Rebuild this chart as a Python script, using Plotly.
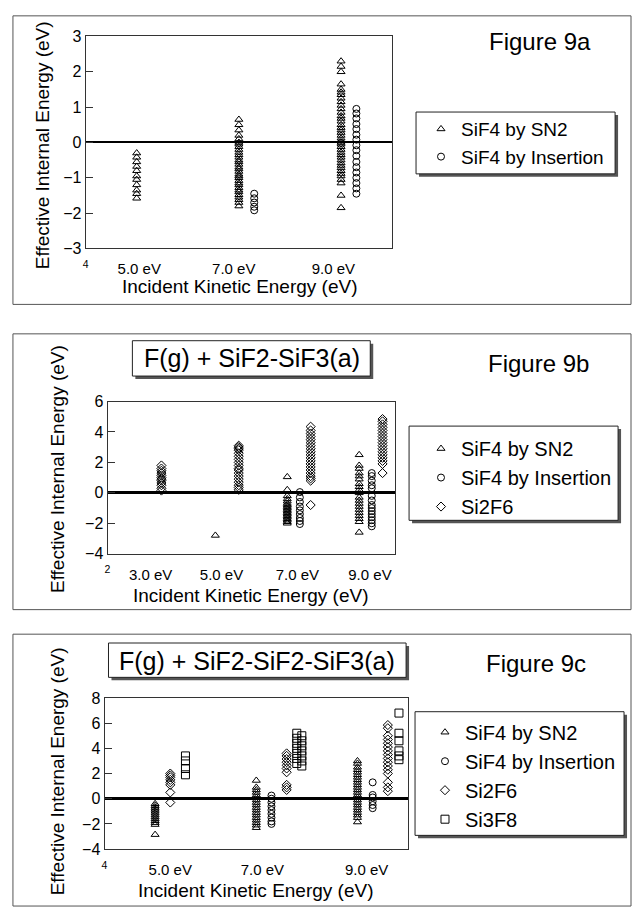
import plotly.graph_objects as go

# ---------------- DATA ----------------
SERIES_NAMES = ["SiF4 by SN2", "SiF4 by Insertion", "Si2F6", "Si3F8"]

# Figure 9a
A_SN2_X = [5.0, 7.0, 9.0]
A_SN2_Y = [
    [-0.3, -0.42, -0.55, -0.68, -0.8, -0.95, -1.05, -1.2, -1.35, -1.45, -1.58],
    [0.65, 0.5, 0.35, 0.2, 0.1, 0.0, -0.05, -0.12, -0.2, -0.28, -0.35, -0.42, -0.5, -0.55,
     -0.62, -0.7, -0.75, -0.82, -0.9, -0.95, -1.0, -1.08, -1.15, -1.2, -1.28, -1.35, -1.4,
     -1.48, -1.55, -1.62, -1.7, -1.8],
    [2.3, 2.15, 2.0, 1.65, 1.5, 1.42, 1.35, 1.25, 1.15, 1.05, 0.95, 0.85, 0.75, 0.68, 0.6,
     0.5, 0.42, 0.35, 0.28, 0.2, 0.12, 0.05, 0.0, -0.05, -0.12, -0.2, -0.28, -0.35, -0.42,
     -0.5, -0.58, -0.65, -0.72, -0.8, -0.88, -0.95, -1.05, -1.15, -1.5, -1.85],
]
A_INS_X = [7.3, 9.3]
A_INS_Y = [
    [-1.45, -1.58, -1.7, -1.82, -1.92],
    [0.95, 0.82, 0.68, 0.52, 0.38, 0.22, 0.08, -0.08, -0.22, -0.38, -0.55, -0.7, -0.85,
     -1.0, -1.15, -1.3, -1.45],
]
A_TICKVALS = [4.0, 5.05, 6.9, 8.85]
A_TICKTEXT = ["<sup>4</sup>", "5.0 eV", "7.0 eV", "9.0 eV"]

# Figure 9b
B_SN2_X = [5.0, 7.0, 9.0]
B_SN2_Y = [
    [-2.8],
    [1.05, 0.2, -0.2, -0.4, -0.55, -0.7, -0.8, -0.9, -1.0, -1.1, -1.2, -1.3, -1.4, -1.5,
     -1.6, -1.7, -1.8, -1.9, -2.0],
    [2.5, 1.8, 1.6, 1.3, 1.1, 0.9, 0.6, 0.4, 0.2, 0.0, -0.3, -0.5, -0.7, -0.9, -1.1, -1.3,
     -1.5, -1.7, -1.9, -2.6],
]
B_INS_X = [7.35, 9.35]
B_INS_Y = [
    [0.05, -0.3, -0.6, -0.9, -1.15, -1.4, -1.65, -1.85, -2.05],
    [1.3, 1.1, 0.8, 0.5, 0.3, -0.2, -0.5, -0.8, -1.0, -1.2, -1.4, -1.6, -1.8, -2.0, -2.2],
]
B_SI2_X = [3.5, 5.65, 7.65, 9.65]
B_SI2_Y = [
    [1.8, 1.6, 1.45, 1.3, 1.15, 1.0, 0.9, 0.8, 0.65, 0.5, 0.3, 0.15],
    [3.1, 3.0, 2.9, 2.8, 2.6, 2.4, 2.2, 2.0, 1.8, 1.6, 1.5, 1.3, 1.1, 0.9, 0.7, 0.5, 0.35, 0.2],
    [4.35, 4.1, 3.9, 3.7, 3.5, 3.3, 3.1, 2.9, 2.7, 2.5, 2.3, 2.1, 1.9, 1.7, 1.5, 1.3, 1.1,
     0.95, 0.8, -0.8],
    [4.85, 4.7, 4.5, 4.3, 4.1, 3.9, 3.7, 3.5, 3.3, 3.1, 2.9, 2.7, 2.5, 2.3, 2.1, 1.9, 1.3],
]
B_TICKVALS = [2.0, 3.2, 5.17, 7.28, 9.3]
B_TICKTEXT = ["<sup>2</sup>", "3.0 eV", "5.0 eV", "7.0 eV", "9.0 eV"]

# Figure 9c
C_SN2_X = [5.0, 7.0, 9.0]
C_SN2_Y = [
    [-0.4, -0.55, -0.7, -0.85, -1.0, -1.15, -1.3, -1.45, -1.6, -1.75, -1.9, -2.05, -2.85],
    [1.45, 0.9, 0.7, 0.5, 0.3, 0.1, -0.1, -0.3, -0.5, -0.7, -0.9, -1.1, -1.3, -1.5, -1.7,
     -1.9, -2.1, -2.3],
    [3.0, 2.8, 2.5, 2.3, 2.1, 1.9, 1.7, 1.5, 1.3, 1.1, 0.9, 0.7, 0.5, 0.3, 0.1, -0.1, -0.3,
     -0.5, -0.7, -0.9, -1.1, -1.3, -1.5, -1.85],
]
C_INS_X = [7.3, 9.3]
C_INS_Y = [
    [0.25, 0.0, -0.3, -0.6, -0.9, -1.2, -1.5, -1.8, -2.0],
    [1.3, 0.3, 0.1, -0.2, -0.5, -0.75],
]
C_SI2_X = [5.3, 7.6, 9.6]
C_SI2_Y = [
    [2.0, 1.85, 1.7, 1.5, 1.3, 1.1, 0.5, -0.3],
    [3.6, 3.4, 3.15, 2.9, 2.65, 2.4, 2.1, 1.1, 0.9, 0.7],
    [5.85, 5.6, 5.0, 4.7, 4.4, 4.1, 3.8, 3.5, 3.2, 2.9, 2.6, 2.3, 2.0, 1.3, 0.9, 0.6],
]
C_SI3_X = [5.6, 7.8, 7.9, 9.82]
C_SI3_Y = [
    [3.4, 3.0, 2.4, 1.9],
    [5.2, 4.8, 4.4, 4.0, 3.6, 3.2, 2.8],
    [5.0, 4.6, 4.2, 3.8, 3.4, 3.0, 2.6],
    [6.8, 5.2, 4.6, 3.8, 3.4, 3.1],
]
C_TICKVALS = [4.0, 5.3, 7.12, 9.18]
C_TICKTEXT = ["<sup>4</sup>", "5.0 eV", "7.0 eV", "9.0 eV"]

# ---------------- LAYOUT HELPERS ----------------
W, H = 633, 917
FONT = "Liberation Sans, Arial, Helvetica, sans-serif"


def px(x):
    return x / W


def py(y):
    return 1 - y / H


def flatten(xs, ys):
    X, Y = [], []
    for x, col in zip(xs, ys):
        X += [x] * len(col)
        Y += list(col)
    return X, Y


SYMBOLS = {
    "SiF4 by SN2": "triangle-up-open",
    "SiF4 by Insertion": "circle-open",
    "Si2F6": "diamond-open",
    "Si3F8": "square-open",
}
SIZES = {"SiF4 by SN2": 7, "SiF4 by Insertion": 7, "Si2F6": 7, "Si3F8": 8}

fig = go.Figure()


def add(name, xs, ys, ax, legend):
    X, Y = flatten(xs, ys)
    fig.add_trace(go.Scatter(
        x=X, y=Y, mode="markers", name=name,
        xaxis="x" + ax, yaxis="y" + ax, legend=legend,
        marker=dict(symbol=SYMBOLS[name], size=SIZES[name], color="black",
                    line=dict(color="black", width=1)),
        showlegend=True,
    ))


add("SiF4 by SN2", A_SN2_X, A_SN2_Y, "", "legend")
add("SiF4 by Insertion", A_INS_X, A_INS_Y, "", "legend")

add("SiF4 by SN2", B_SN2_X, B_SN2_Y, "2", "legend2")
add("SiF4 by Insertion", B_INS_X, B_INS_Y, "2", "legend2")
add("Si2F6", B_SI2_X, B_SI2_Y, "2", "legend2")

add("SiF4 by SN2", C_SN2_X, C_SN2_Y, "3", "legend3")
add("SiF4 by Insertion", C_INS_X, C_INS_Y, "3", "legend3")
add("Si2F6", C_SI2_X, C_SI2_Y, "3", "legend3")
add("Si3F8", C_SI3_X, C_SI3_Y, "3", "legend3")


def xaxis(dom, rng, tv, tt, anchor):
    return dict(domain=dom, range=rng, anchor=anchor, showgrid=False, zeroline=False,
                showline=True, mirror=True, linecolor="#333", linewidth=1,
                ticks="", tickvals=tv, ticktext=tt, ticklabelstandoff=7,
                tickfont=dict(size=15, color="black", family=FONT))


def yaxis(dom, rng, dtick, anchor, zw):
    return dict(domain=dom, range=rng, anchor=anchor, showgrid=False, dtick=dtick,
                zeroline=True, zerolinecolor="black", zerolinewidth=zw,
                showline=True, mirror=True, linecolor="#333", linewidth=1,
                ticks="inside", ticklen=7, tickcolor="#333",
                tickfont=dict(size=16, color="black", family=FONT))


layout = dict(
    width=W, height=H, autosize=False,
    margin=dict(l=0, r=0, t=0, b=0),
    paper_bgcolor="white", plot_bgcolor="rgba(0,0,0,0)",
    font=dict(family=FONT, color="black"),
    xaxis=xaxis([px(83), px(391)], [4, 10], A_TICKVALS, A_TICKTEXT, "y"),
    yaxis=yaxis([py(245), py(29)], [-3, 3], 1, "x", 1.5),
    xaxis2=xaxis([px(105), px(394)], [2, 10], B_TICKVALS, B_TICKTEXT, "y2"),
    yaxis2=yaxis([py(556), py(401)], [-4, 6], 2, "x2", 3),
    xaxis3=xaxis([px(102), px(407)], [4, 10], C_TICKVALS, C_TICKTEXT, "y3"),
    yaxis3=yaxis([py(857), py(703)], [-4, 8], 2, "x3", 3),
    legend=dict(x=px(420), y=py(104), xanchor="left", yanchor="top",
                bgcolor="rgba(0,0,0,0)", borderwidth=0,
                font=dict(size=19, family=FONT, color="black")),
    legend2=dict(x=px(420), y=py(429), xanchor="left", yanchor="top",
                 bgcolor="rgba(0,0,0,0)", borderwidth=0,
                 font=dict(size=20, family=FONT, color="black")),
    legend3=dict(x=px(424), y=py(718), xanchor="left", yanchor="top",
                 bgcolor="rgba(0,0,0,0)", borderwidth=0,
                 font=dict(size=20, family=FONT, color="black")),
)
fig.update_layout(**layout)

shapes = []


def rect(x0, y0, x1, y1, color="#444", width=1, fill=None, layer="below"):
    shapes.append(dict(type="rect", xref="paper", yref="paper",
                       x0=px(x0), x1=px(x1), y0=py(y1), y1=py(y0),
                       line=dict(color=color, width=width),
                       fillcolor=fill if fill else "rgba(0,0,0,0)", layer=layer))


def shadow_box(x0, y0, x1, y1):
    rect(x0 + 3, y0 + 3, x1 + 3, y1 + 3, color="#555", width=0, fill="#555")
    rect(x0, y0, x1, y1, color="#222", width=1, fill="white")


# outer panel frames
rect(10, 8, 631, 302, color="#555")
rect(10, 332, 631, 613, color="#555")
rect(10, 638, 631, 915, color="#555")
# legend boxes
shadow_box(415, 106, 615, 169)
shadow_box(408, 426, 618, 522)
shadow_box(414, 717, 624, 843)
# title boxes
shadow_box(130, 339, 369, 375)
shadow_box(106, 647, 405, 682)

fig.update_layout(shapes=shapes)

ann = []


def text(x, y, s, size, angle=0):
    ann.append(dict(x=px(x), y=py(y), xref="paper", yref="paper", text=s,
                    showarrow=False, xanchor="center", yanchor="middle",
                    textangle=angle, font=dict(size=size, family=FONT, color="black")))


text(540, 34, "Figure 9a", 24)
text(538, 362, "Figure 9b", 24)
text(536, 668, "Figure 9c", 24)
text(250, 357, "F(g) + SiF2-SiF3(a)", 25)
text(255.5, 665, "F(g) + SiF2-SiF2-SiF3(a)", 25)

text(40, 140, "Effective Internal Energy (eV)", 19, -90)
text(238, 284, "Incident Kinetic Energy (eV)", 19)
text(55, 470, "Effective Internal Energy (eV)", 19, -90)
text(249, 599, "Incident Kinetic Energy (eV)", 19)
text(55, 778, "Effective Internal Energy (eV)", 19, -90)
text(254, 899, "Incident Kinetic Energy (eV)", 19)

fig.update_layout(annotations=ann)

fig.write_html("out.html", config={"displayModeBar": False},
               post_script="document.body.style.margin='0';")
